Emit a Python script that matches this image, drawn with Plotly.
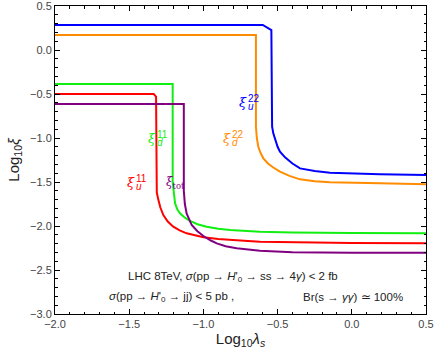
import plotly.graph_objects as go

# ---- data ----
xi_u22_x = [-2.0, -0.60, -0.542, -0.542, -0.537, -0.529, -0.515, -0.50, -0.484, -0.45, -0.40, -0.349, -0.25, -0.147, 0.19, 0.5]
xi_u22_y = [0.284, 0.284, 0.227, -0.76, -0.87, -0.947, -1.03, -1.10, -1.156, -1.22, -1.29, -1.345, -1.375, -1.394, -1.413, -1.42]

xi_d22_x = [-2.0, -0.646, -0.646, -0.640, -0.630, -0.615, -0.596, -0.565, -0.529, -0.484, -0.42, -0.349, -0.25, -0.147, 0.19, 0.5]
xi_d22_y = [0.17, 0.17, -0.87, -1.0, -1.099, -1.17, -1.231, -1.29, -1.335, -1.383, -1.43, -1.47, -1.492, -1.504, -1.515, -1.526]

xi_d11_x = [-2.0, -1.207, -1.207, -1.200, -1.191, -1.176, -1.158, -1.125, -1.09, -1.04, -0.978, -0.90, -0.82, -0.619, -0.4, 0.0, 0.5]
xi_d11_y = [-0.386, -0.386, -1.50, -1.65, -1.742, -1.81, -1.856, -1.905, -1.943, -1.98, -2.008, -2.03, -2.045, -2.065, -2.075, -2.08, -2.083]

xi_u11_x = [-2.0, -1.335, -1.319, -1.319, -1.314, -1.304, -1.29, -1.27, -1.24, -1.203, -1.16, -1.113, -1.06, -1.0, -0.90, -0.82, -0.70, -0.619, -0.4, 0.0, 0.5]
xi_u11_y = [-0.5, -0.5, -0.53, -1.50, -1.62, -1.70, -1.79, -1.875, -1.95, -2.008, -2.05, -2.083, -2.108, -2.128, -2.148, -2.159, -2.171, -2.178, -2.185, -2.192, -2.197]

xi_tot_x = [-2.0, -1.132, -1.132, -1.125, -1.113, -1.097, -1.079, -1.04, -1.0, -0.95, -0.91, -0.85, -0.776, -0.619, -0.4, 0.0, 0.5]
xi_tot_y = [-0.614, -0.614, -1.60, -1.75, -1.856, -1.93, -1.989, -2.06, -2.114, -2.165, -2.197, -2.23, -2.253, -2.281, -2.298, -2.303, -2.303]

x_ticks = [-2.0, -1.5, -1.0, -0.5, 0.0, 0.5]
y_ticks = [0.5, 0.0, -0.5, -1.0, -1.5, -2.0, -2.5, -3.0]

BLUE = "#0000ff"
ORANGE = "#ff8c00"
GREEN = "#11ee11"
RED = "#ff0000"
PURPLE = "#800080"

fig = go.Figure()
for xs, ys, col in [
    (xi_u22_x, xi_u22_y, BLUE),
    (xi_d22_x, xi_d22_y, ORANGE),
    (xi_d11_x, xi_d11_y, GREEN),
    (xi_u11_x, xi_u11_y, RED),
    (xi_tot_x, xi_tot_y, PURPLE),
]:
    fig.add_trace(go.Scatter(x=xs, y=ys, mode="lines",
                             line=dict(color=col, width=2), showlegend=False,
                             hoverinfo="skip"))

FONT = "Liberation Sans, Arial, sans-serif"
SERIF = "DejaVu Serif, serif"
ann = []

def stacked_label(x, y, sup, sub, col):
    ann.append(dict(x=x, y=y, xref="x", yref="y", text="<i>ξ</i>", showarrow=False,
                    font=dict(size=13, color=col, family=SERIF),
                    xanchor="right", yanchor="middle"))
    ann.append(dict(x=x, y=y, xref="x", yref="y", text=sup, showarrow=False,
                    font=dict(size=10, color=col, family=FONT),
                    xanchor="left", yanchor="middle", xshift=-3, yshift=4))
    ann.append(dict(x=x, y=y, xref="x", yref="y", text="<i>" + sub + "</i>", showarrow=False,
                    font=dict(size=10, color=col, family=FONT),
                    xanchor="left", yanchor="middle", xshift=-3, yshift=-4))

stacked_label(-0.695, -0.60, "22", "u", BLUE)
stacked_label(-0.80, -1.0, "22", "d", ORANGE)
stacked_label(-1.305, -1.0, "11", "d", GREEN)
stacked_label(-1.45, -1.51, "11", "u", RED)
ann.append(dict(x=-1.19, y=-1.51, xref="x", yref="y",
                text="<i>ξ</i><sub>tot</sub>", showarrow=False,
                font=dict(size=12, color=PURPLE, family=SERIF),
                xanchor="center", yanchor="middle"))

TXT = dict(size=11.5, color="#222", family=FONT)
ann.append(dict(x=-0.80, y=-2.58, xref="x", yref="y",
                text="LHC 8TeV, <i>σ</i>(pp → <i>H</i>'<sub>0</sub> → ss → 4<i>γ</i>) < 2 fb",
                showarrow=False, font=TXT, xanchor="center", yanchor="middle"))
ann.append(dict(x=-1.65, y=-2.81, xref="x", yref="y",
                text="<i>σ</i>(pp → <i>H</i>'<sub>0</sub> → jj) < 5 pb ,",
                showarrow=False, font=TXT, xanchor="left", yanchor="middle"))
ann.append(dict(x=-0.34, y=-2.81, xref="x", yref="y",
                text="Br(s → <i>γγ</i>) ≃ 100%",
                showarrow=False, font=TXT, xanchor="left", yanchor="middle"))

axis_common = dict(
    showline=True, linecolor="black", linewidth=1, mirror="allticks",
    ticks="inside", ticklen=5, tickwidth=1, tickcolor="black",
    showgrid=False, zeroline=False, automargin=False,
    ticklabeloverflow="allow",
    tickfont=dict(size=11, color="#444", family=FONT),
    minor=dict(ticks="inside", ticklen=2.5, dtick=0.1, tickcolor="black", showgrid=False),
)

fig.update_layout(
    width=436, height=354,
    margin=dict(l=55, r=10, t=6, b=40),
    plot_bgcolor="white", paper_bgcolor="white",
    annotations=ann,
    xaxis=dict(range=[-2.0, 0.5], tickvals=x_ticks, tickformat=".1f",
               title=dict(text="Log<sub>10</sub><i>λ</i><sub><i>s</i></sub>",
                          font=dict(size=15, color="#222", family=FONT), standoff=4),
               **axis_common),
    yaxis=dict(range=[-3.0, 0.5], tickvals=y_ticks, tickformat=".1f",
               title=dict(text="Log<sub>10</sub><i>ξ</i>",
                          font=dict(size=15, color="#222", family=FONT), standoff=6),
               **axis_common),
)

fig.write_html("out.html", config={"displayModeBar": False},
               post_script="document.body.style.margin='0';")
